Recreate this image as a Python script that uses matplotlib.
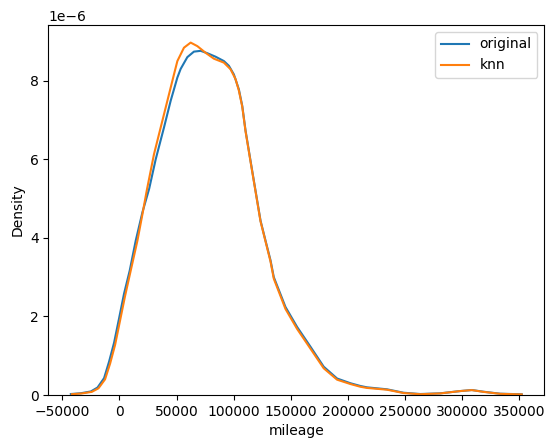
import matplotlib
matplotlib.use("Agg")
import matplotlib.pyplot as plt

# density curves (x = mileage, y in units of 1e-6)
original_x = [-42570, -33830, -25090, -19230, -13460, -9090, -4720, -350,
              4020, 9000, 14250, 20100, 26000, 31730, 38990, 44840,
              50700, 53580, 59440, 65210, 71070, 76920, 84180, 91430,
              95800, 100170, 104540, 107510, 110400, 114770, 119140,
              123510, 127880, 132250, 135140, 145370, 155590, 167220,
              178840, 190550, 202180, 210920, 216780, 234260, 248770,
              263370, 280850, 298330, 308560, 318700, 333300, 352270]
original_y = [0.025, 0.045, 0.09, 0.19, 0.43, 0.85, 1.33, 1.95,
              2.58, 3.17, 3.93, 4.65, 5.25, 6.00, 6.81, 7.49,
              8.08, 8.30, 8.60, 8.74, 8.76, 8.70, 8.61, 8.50,
              8.38, 8.16, 7.78, 7.36, 6.73, 5.96, 5.20,
              4.44, 3.93, 3.43, 3.00, 2.24, 1.73, 1.23,
              0.72, 0.42, 0.30, 0.23, 0.195, 0.145, 0.058,
              0.025, 0.043, 0.10, 0.127, 0.084, 0.033, 0.018]

knn_x = [-41700, -32950, -24200, -18400, -12600, -8200, -3800, 550,
         4900, 9880, 15730, 20100, 23860, 30240, 36100, 41960,
         47730, 50700, 56470, 62330, 68180, 75440, 82690, 91430,
         97290, 101660, 104540, 107510, 110400, 114770, 119140,
         123510, 127880, 132250, 135140, 145370, 155590, 167220,
         178840, 190550, 202180, 210920, 216780, 234260, 248770,
         263370, 280850, 298330, 308560, 318700, 333300, 352270]
knn_y = [0.02, 0.04, 0.08, 0.17, 0.40, 0.80, 1.28, 1.90,
         2.52, 3.17, 3.93, 4.60, 5.20, 6.13, 6.81, 7.49,
         8.16, 8.50, 8.84, 8.97, 8.88, 8.71, 8.56, 8.46,
         8.29, 8.04, 7.75, 7.34, 6.71, 5.94, 5.18,
         4.42, 3.91, 3.40, 2.96, 2.19, 1.68, 1.18,
         0.68, 0.39, 0.28, 0.21, 0.18, 0.135, 0.05,
         0.02, 0.04, 0.10, 0.125, 0.08, 0.03, 0.015]

fig = plt.figure(figsize=(5.54, 4.48), dpi=100)
ax = fig.add_axes([0.0872, 0.1183, 0.8953, 0.8259])

ax.plot(original_x, [v * 1e-6 for v in original_y], color="#1f77b4",
        label="original", solid_joinstyle="round")
ax.plot(knn_x, [v * 1e-6 for v in knn_y], color="#ff7f0e",
        label="knn", solid_joinstyle="round")
ax.set_ylim(bottom=0)
ax.set_xticks([-50000, 0, 50000, 100000, 150000, 200000, 250000, 300000, 350000])

ax.set_xlabel("mileage")
ax.set_ylabel("Density")
ax.legend(loc="upper right")

fig.savefig("out.png", dpi=100)
